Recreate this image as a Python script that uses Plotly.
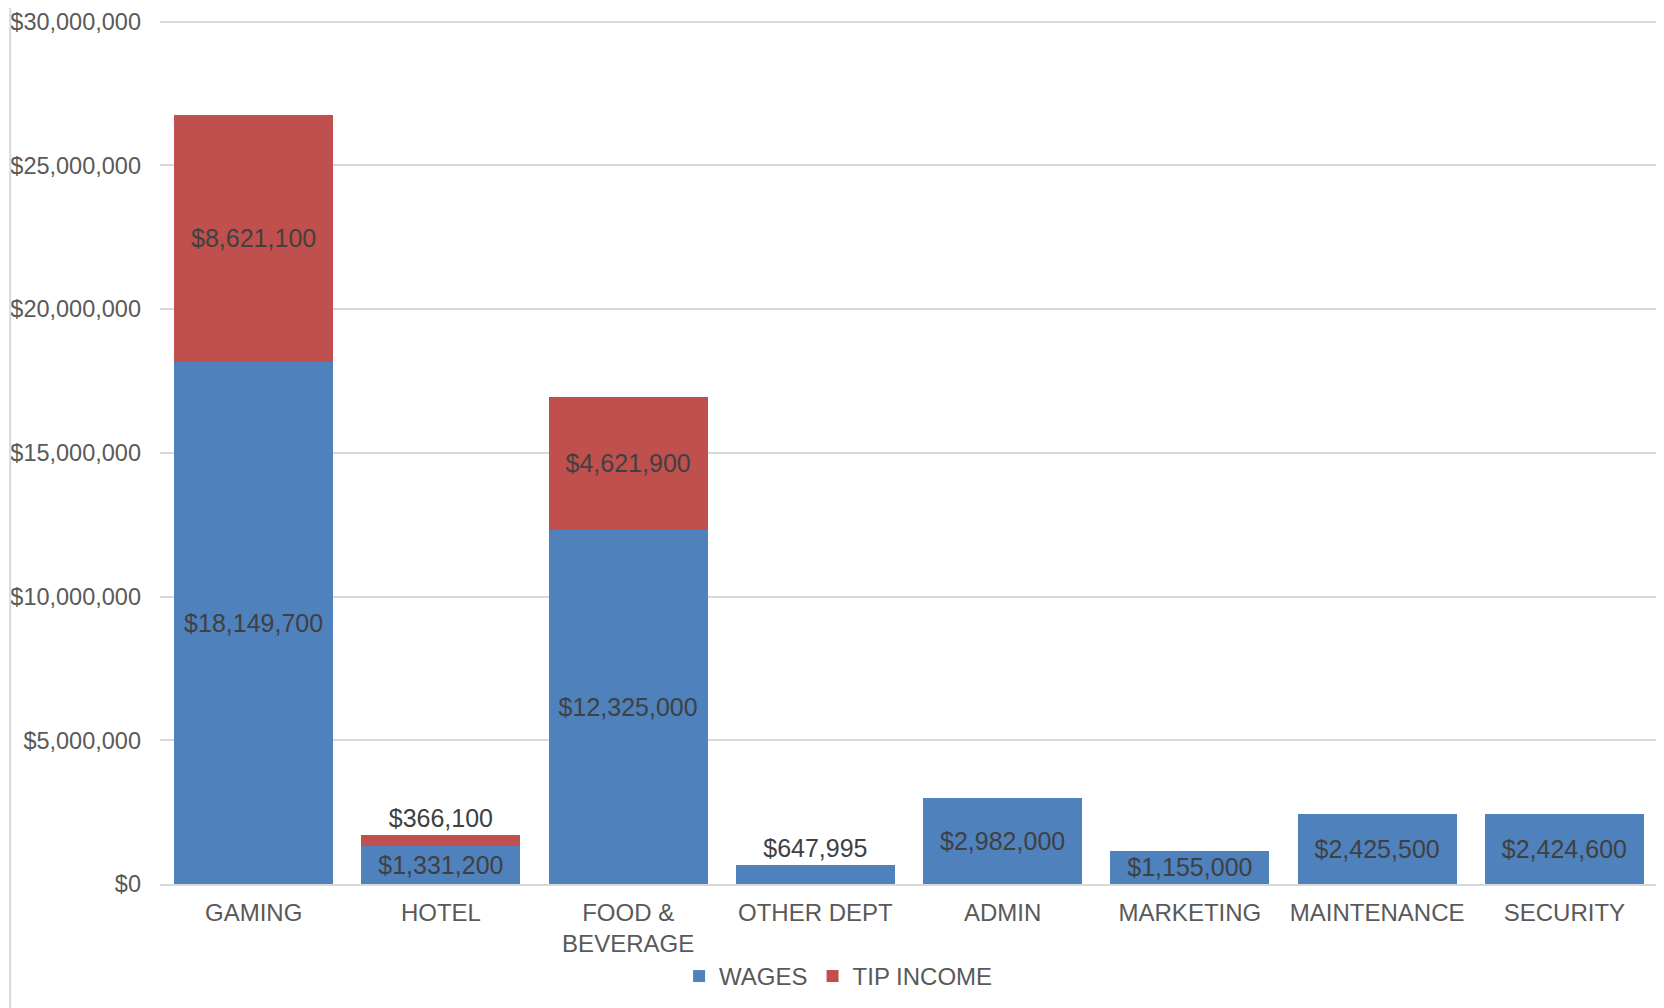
import plotly.graph_objs as go

DEPARTMENTS = ["GAMING", "HOTEL", "FOOD &<br>BEVERAGE", "OTHER DEPT", "ADMIN",
               "MARKETING", "MAINTENANCE", "SECURITY"]
WAGES = [18149700, 1331200, 12325000, 647995, 2982000, 1155000, 2425500, 2424600]
TIP_INCOME = [8621100, 366100, 4621900, None, None, None, None, None]
Y_TICKS = [0, 5000000, 10000000, 15000000, 20000000, 25000000, 30000000]

BLUE = "#4F81BD"
RED = "#C0504D"
LABEL_COLOR = "#404040"
TICK_COLOR = "#595959"
GRID = "#d9d9d9"
FONT = "Liberation Sans, Arial, sans-serif"


def money(v):
    return "" if v is None else "${:,.0f}".format(v)


wage_pos = ["outside" if v < 1000000 else "inside" for v in WAGES]
tip_pos = ["outside" if (v is not None and v < 1000000) else "inside" for v in TIP_INCOME]

fig = go.Figure()
fig.add_trace(go.Bar(
    x=DEPARTMENTS, y=WAGES, name="WAGES",
    marker=dict(color=BLUE, line=dict(width=0)),
    text=[money(v) for v in WAGES], textposition=wage_pos,
    insidetextanchor="middle", constraintext="none",
    textfont=dict(family=FONT, size=25, color=LABEL_COLOR),
    cliponaxis=False,
))
fig.add_trace(go.Bar(
    x=DEPARTMENTS, y=TIP_INCOME, name="TIP INCOME",
    marker=dict(color=RED, line=dict(width=0)),
    text=[money(v) for v in TIP_INCOME], textposition=tip_pos,
    insidetextanchor="middle", constraintext="none",
    textfont=dict(family=FONT, size=25, color=LABEL_COLOR),
    cliponaxis=False,
))

# page body adds an 8px offset, margins compensate for it
fig.update_layout(
    barmode="stack",
    bargap=0.15,
    width=1664, height=1008,
    margin=dict(l=152, r=14, t=12, b=132),
    paper_bgcolor="white",
    plot_bgcolor="white",
    font=dict(family=FONT, color=TICK_COLOR),
    showlegend=True,
    legend=dict(orientation="h", x=0.453, xanchor="center", y=-0.107, yanchor="middle",
                font=dict(size=24, color=TICK_COLOR), traceorder="normal",
                itemwidth=30, tracegroupgap=0),
    xaxis=dict(showgrid=False, showline=True, linecolor=GRID, linewidth=2,
               tickfont=dict(size=24, color=TICK_COLOR), ticks="",
               ticklabelstandoff=6, automargin=False),
    yaxis=dict(range=[0, 30060000], tickvals=Y_TICKS,
               ticktext=[money(v) for v in Y_TICKS],
               showgrid=True, gridcolor=GRID, gridwidth=2, zeroline=False,
               showline=False, ticks="", ticklabelstandoff=18,
               automargin=False, ticklabeloverflow="allow",
               tickfont=dict(size=23.5, color=TICK_COLOR)),
    shapes=[dict(type="line", xref="paper", yref="paper",
                 x0=-0.1, x1=-0.1, y0=-0.2, y1=1.05,
                 line=dict(color=GRID, width=2))],
)

fig.write_html("out.html")
